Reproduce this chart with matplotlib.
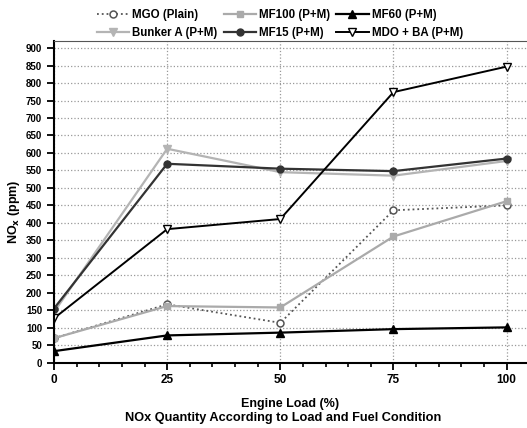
import matplotlib
matplotlib.use("Agg")
from matplotlib import pyplot as plt
from matplotlib.ticker import MultipleLocator

plt.rcParams['font.family'] = ['Liberation Sans', 'DejaVu Sans']
plt.rcParams['font.weight'] = 'bold'

load = [0, 25, 50, 75, 100]

mgo = [70, 167, 114, 436, 450]
mf100 = [70, 162, 158, 361, 462]
mf60 = [33, 78, 86, 96, 101]
bunker_a = [145, 612, 545, 535, 577]
mf15 = [155, 569, 555, 548, 584]
mdo_ba = [127, 382, 411, 774, 847]

fig = plt.figure(figsize=(5.27, 4.28), dpi=100)
ax = fig.add_axes([0.1025, 0.1526, 0.8975, 0.7514])

l_mgo, = ax.plot(load, mgo, ls=':', color='#555555', lw=1.3, marker='o', ms=5,
                 mfc='white', mec='#555555', mew=1.1, label='MGO (Plain)')
l_mf100, = ax.plot(load, mf100, ls='-', color='#aaaaaa', lw=1.6, marker='s', ms=5,
                   mfc='#aaaaaa', mec='#aaaaaa', label='MF100 (P+M)')
l_mf60, = ax.plot(load, mf60, ls='-', color='black', lw=1.6, marker='^', ms=5.5,
                  mfc='black', mec='black', label='MF60 (P+M)')
l_bunk, = ax.plot(load, bunker_a, ls='-', color='#b4b4b4', lw=1.6, marker='v', ms=5.5,
                  mfc='#b4b4b4', mec='#b4b4b4', label='Bunker A (P+M)')
l_mf15, = ax.plot(load, mf15, ls='-', color='#333333', lw=1.6, marker='o', ms=5,
                  mfc='#333333', mec='#333333', label='MF15 (P+M)')
l_mdo, = ax.plot(load, mdo_ba, ls='-', color='black', lw=1.4, marker='v', ms=6,
                 mfc='white', mec='black', mew=1.0, label='MDO + BA (P+M)')

ax.set_xlim(0, 104.5)
ax.set_ylim(0, 920)
ax.xaxis.set_major_locator(MultipleLocator(25))
ax.xaxis.set_minor_locator(MultipleLocator(5))
ax.yaxis.set_major_locator(MultipleLocator(50))
ax.grid(True, which='major', ls=':', color='#999999', lw=0.9)
ax.set_axisbelow(True)

for s in ['left', 'bottom']:
    ax.spines[s].set_linewidth(1.5)
ax.spines['top'].set_color('#555555')
ax.spines['right'].set_visible(False)

ax.tick_params(axis='y', which='major', direction='out', length=5, width=1.3, labelsize=7)
ax.tick_params(axis='x', which='major', direction='out', length=5, width=1.3, labelsize=8.5)
ax.tick_params(axis='x', which='minor', direction='out', length=3, width=1.2)

ax.set_ylabel('NO$_\\mathbf{x}$ (ppm)', fontsize=9, fontweight='bold')
ax.yaxis.set_label_coords(-0.068, 0.469)
ax.set_xlabel('Engine Load (%)', fontsize=9, fontweight='bold', labelpad=8)
fig.text(0.537, 0.0234, 'NOx Quantity According to Load and Fuel Condition',
         ha='center', va='center', fontsize=9.2, fontweight='bold')

handles = [l_mgo, l_bunk, l_mf100, l_mf15, l_mf60, l_mdo]
fig.legend(handles, [h.get_label() for h in handles], ncol=3, loc='upper left',
           bbox_to_anchor=(0.184, 0.979), frameon=False, fontsize=8.3,
           borderpad=0, borderaxespad=0,
           handlelength=2.8, columnspacing=0.55, handletextpad=0.25, labelspacing=0.5)

fig.savefig('out.png', dpi=100)
